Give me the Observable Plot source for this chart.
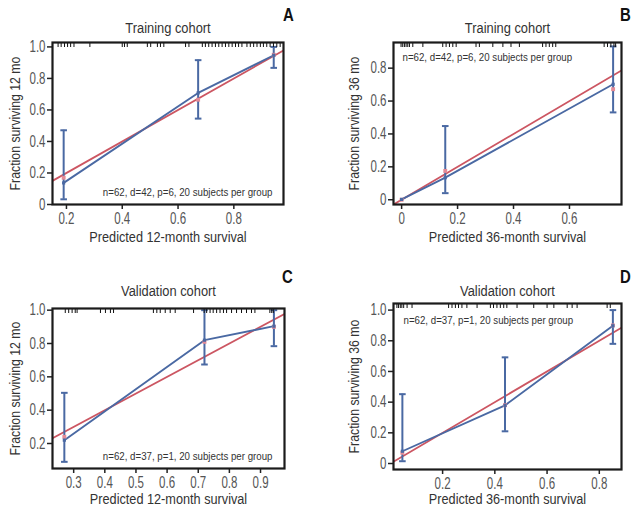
<!DOCTYPE html>
<html><head><meta charset="utf-8">
<script src="https://cdn.jsdelivr.net/npm/d3@7"></script>
<script src="https://cdn.jsdelivr.net/npm/@observablehq/plot@0.6"></script>
<style>
body{margin:0;background:#fff;}
#root{position:relative;width:643px;height:512px;}
.panel{position:absolute;}
</style></head><body><div id="root"></div>
<script>
// ---------- data ----------
const panelLetters = ["A", "B", "C", "D"];
const panelTitles = ["Training cohort", "Training cohort", "Validation cohort", "Validation cohort"];
const xLabels = ["Predicted 12-month survival", "Predicted 36-month survival", "Predicted 12-month survival", "Predicted 36-month survival"];
const yLabels = ["Fraction surviving 12 mo", "Fraction surviving 36 mo", "Fraction surviving 12 mo", "Fraction surviving 36 mo"];
const notes = ["n=62, d=42, p=6, 20 subjects per group", "n=62, d=42, p=6, 20 subjects per group",
               "n=62, d=37, p=1, 20 subjects per group", "n=62, d=37, p=1, 20 subjects per group"];

const xTicksA = [0.2, 0.4, 0.6, 0.8];
const xTicksB = [0, 0.2, 0.4, 0.6];
const xTicksC = [0.3, 0.4, 0.5, 0.6, 0.7, 0.8, 0.9];
const xTicksD = [0.2, 0.4, 0.6, 0.8];
const yTicksA = [0, 0.2, 0.4, 0.6, 0.8, 1.0];
const yTicksB = [0, 0.2, 0.4, 0.6, 0.8];
const yTicksC = [0.2, 0.4, 0.6, 0.8, 1.0];
const yTicksD = [0, 0.2, 0.4, 0.6, 0.8, 1.0];

// observed (Kaplan-Meier) per group with 95% CI
const predA = [0.19, 0.672, 0.943], obsA = [0.137, 0.708, 0.947], lowA = [0.033, 0.545, 0.867], highA = [0.471, 0.916, 1.0];
const predB = [0.0, 0.156, 0.756], obsB = [0.002, 0.134, 0.702], lowB = [0.0, 0.04, 0.531], highB = [0.0, 0.448, 0.932];
const predC = [0.27, 0.72, 0.943], obsC = [0.22, 0.82, 0.904], lowC = [0.09, 0.674, 0.784], highC = [0.504, 1.0, 1.0];
const predD = [0.046, 0.439, 0.852], obsD = [0.08, 0.379, 0.898], lowD = [0.015, 0.21, 0.78], highD = [0.452, 0.692, 1.0];

// bias-corrected estimates (light red marks)
const corrXA = [0.19, 0.672, 0.943], corrYA = [0.17, 0.665, 0.95];
const corrXB = [0.0, 0.156, 0.756], corrYB = [0.0, 0.175, 0.672];
const corrXC = [0.27, 0.72, 0.943], corrYC = [0.24, 0.81, 0.9];
const corrXD = [0.046, 0.439, 0.852], corrYD = [0.07, 0.38, 0.9];

// rug of individual predicted survival values
const rugA = [0.17,0.181,0.193,0.204,0.215,0.227,0.284,0.4,0.408,0.418,0.49,0.502,0.526,0.537,0.549,0.627,0.639,0.687,0.698,0.71,0.722,0.734,0.746,0.758,0.77,0.782,0.794,0.806,0.817,0.829,0.847,0.859,0.871,0.883,0.895,0.906,0.918,0.93,0.942,0.954,0.966];
const rugB = [-0.002,0.004,0.01,0.016,0.022,0.028,0.04,0.076,0.147,0.159,0.171,0.183,0.195,0.266,0.278,0.326,0.362,0.391,0.421,0.504,0.516,0.528,0.54,0.551,0.724,0.736,0.748,0.759,0.765];
const rugC = [0.273,0.284,0.295,0.305,0.311,0.386,0.402,0.418,0.428,0.556,0.567,0.578,0.594,0.61,0.626,0.685,0.719,0.727,0.738,0.748,0.759,0.77,0.781,0.791,0.807,0.823,0.839,0.855,0.871,0.882,0.93,0.936,0.941];
const rugD = [0.025,0.031,0.038,0.044,0.051,0.064,0.083,0.223,0.236,0.249,0.261,0.274,0.293,0.332,0.383,0.395,0.408,0.421,0.434,0.446,0.485,0.549,0.6,0.626,0.677,0.696,0.715,0.83,0.842];

const identity = [-0.2, 1.2];

// ---------- layout ----------
const FONT = '"Liberation Sans", Arial, sans-serif';
const NARROW = 0.83;      // horizontal condensing of text, like a narrow typeface
const NARROW_TICK = 0.72; // tick labels: tall, narrow digits
const BLUE = "#4a69a3", RED = "#cc5662", PINK = "#e38a96";
const layouts = [
  {left: 0, top: 0, ml: 52, mr: 38, mt: 42, mb: 52, xd: [0.15, 0.978], yd: [0, 1.028],
   titleDy: -14.5, letterDx: 5, letterDy: -27, xlabDy: 33, ylabDx: -37, noteAnchor: "bottom-right", noteDx: -11, noteDy: -12},
  {left: 322, top: 0, ml: 71, mr: 22, mt: 42, mb: 52, xd: [-0.029, 0.786], yd: [-0.029, 0.956],
   titleDy: -14.5, letterDx: 4, letterDy: -27, xlabDy: 33, ylabDx: -39, noteAnchor: "top-left", noteDx: 9, noteDy: 14.5},
  {left: 0, top: 256, ml: 52, mr: 37, mt: 52, mb: 44, xd: [0.232, 0.977], yd: [0.05, 1.01],
   titleDy: -17.5, letterDx: 3, letterDy: -31.5, xlabDy: 31, ylabDx: -37, noteAnchor: "bottom-right", noteDx: -12, noteDy: -12.5},
  {left: 322, top: 256, ml: 71, mr: 22, mt: 47, mb: 43, xd: [0.012, 0.885], yd: [-0.039, 1.043],
   titleDy: -12.5, letterDx: 4, letterDy: -26, xlabDy: 30, ylabDx: -39, noteAnchor: "top-left", noteDx: 10, noteDy: 16.5}
];
const series = [
  {pred: predA, obs: obsA, low: lowA, high: highA, cx: corrXA, cy: corrYA, rug: rugA, xt: xTicksA, yt: yTicksA},
  {pred: predB, obs: obsB, low: lowB, high: highB, cx: corrXB, cy: corrYB, rug: rugB, xt: xTicksB, yt: yTicksB},
  {pred: predC, obs: obsC, low: lowC, high: highC, cx: corrXC, cy: corrYC, rug: rugC, xt: xTicksC, yt: yTicksC},
  {pred: predD, obs: obsD, low: lowD, high: highD, cx: corrXD, cy: corrYD, rug: rugD, xt: xTicksD, yt: yTicksD}
];

const fmt = d => d === 0 ? "0" : d.toFixed(1);
const capSymbol = {draw(ctx, size) { const h = Math.sqrt(size / Math.PI); ctx.moveTo(-h, 0); ctx.lineTo(h, 0); }};
const rugSymbol = {draw(ctx, size) { const h = Math.sqrt(size / Math.PI); ctx.moveTo(0, 0); ctx.lineTo(0, h); }};

const root = document.getElementById("root");
layouts.forEach((L, i) => {
  const S = series[i];
  const pts = S.pred.map((x, j) => ({x, y: S.obs[j], lo: S.low[j], hi: S.high[j]}));
  const ci = pts.filter(p => p.hi > p.lo);
  const corr = S.cx.map((x, j) => ({x, y: S.cy[j]}));
  const chart = Plot.plot({
    width: 321, height: 256,
    marginLeft: L.ml, marginRight: L.mr, marginTop: L.mt, marginBottom: L.mb,
    style: {fontFamily: FONT, fontSize: "14px", color: "#555", background: "transparent", overflow: "visible"},
    x: {domain: L.xd},
    y: {domain: L.yd},
    marks: [
      Plot.axisX({ticks: S.xt, tickFormat: fmt, tickSize: 5, tickPadding: 3, label: null, fontSize: 16, stroke: "#222", strokeWidth: 1.5, fill: "#555"}),
      Plot.axisY({ticks: S.yt, tickFormat: fmt, tickSize: 5, tickPadding: 2, label: null, fontSize: 16, stroke: "#222", strokeWidth: 1.5, fill: "#555"}),
      Plot.line(identity, {x: d => d, y: d => d, stroke: RED, strokeWidth: 1.8, clip: true}),
      Plot.ruleX(ci, {x: "x", y1: "lo", y2: "hi", stroke: BLUE, strokeWidth: 2}),
      Plot.dot(ci, {x: "x", y: "lo", symbol: capSymbol, r: 3.3, fill: "none", stroke: BLUE, strokeWidth: 2}),
      Plot.dot(ci, {x: "x", y: "hi", symbol: capSymbol, r: 3.3, fill: "none", stroke: BLUE, strokeWidth: 2}),
      Plot.line(pts, {x: "x", y: "y", stroke: BLUE, strokeWidth: 1.9}),
      Plot.dot(corr, {x: "x", y: "y", symbol: "square", r: 2.2, fill: PINK, stroke: "none"}),
      Plot.dot(pts, {x: "x", y: "y", symbol: "square", r: 1.8, fill: BLUE, stroke: "none"}),
      Plot.dot(S.rug, {x: d => d, frameAnchor: "top", symbol: rugSymbol, r: 4.5, fill: "none", stroke: "#111", strokeWidth: 1}),
      Plot.frame({stroke: "#1b1b1b", strokeWidth: 2.2}),
      Plot.text([panelTitles[i]], {frameAnchor: "top", dy: L.titleDy, text: d => d, fontSize: 15.5, fill: "#333", lineAnchor: "middle"}),
      Plot.text([panelLetters[i]], {frameAnchor: "top-right", dx: L.letterDx, dy: L.letterDy, text: d => d, fontSize: 18, fontWeight: "bold", fill: "#111", textAnchor: "middle", lineAnchor: "middle"}),
      Plot.text([xLabels[i]], {frameAnchor: "bottom", dy: L.xlabDy, text: d => d, fontSize: 15.3, fill: "#333", lineAnchor: "middle"}),
      Plot.text([yLabels[i]], {frameAnchor: "left", dx: L.ylabDx, rotate: -90, text: d => d, fontSize: 14.8, fill: "#333", textAnchor: "middle", lineAnchor: "middle"}),
      Plot.text([notes[i]], {frameAnchor: L.noteAnchor, dx: L.noteDx, dy: L.noteDy, text: d => d, fontSize: 11.7, fill: "#333",
        textAnchor: L.noteAnchor.endsWith("right") ? "end" : "start", lineAnchor: "middle"})
    ]
  });
  const div = document.createElement("div");
  div.className = "panel";
  div.style.left = L.left + "px";
  div.style.top = L.top + "px";
  div.appendChild(chart);
  root.appendChild(div);
  // condense every text horizontally (the original uses a narrow typeface)
  chart.querySelectorAll("text").forEach(t => {
    const w = t.getComputedTextLength();
    const g = t.closest("g[aria-label]");
    const isTick = g && /tick label/.test(g.getAttribute("aria-label"));
    if (w > 0) {
      t.setAttribute("textLength", (w * (isTick ? NARROW_TICK : NARROW)).toFixed(2));
      t.setAttribute("lengthAdjust", "spacingAndGlyphs");
    }
  });
});
</script></body></html>
